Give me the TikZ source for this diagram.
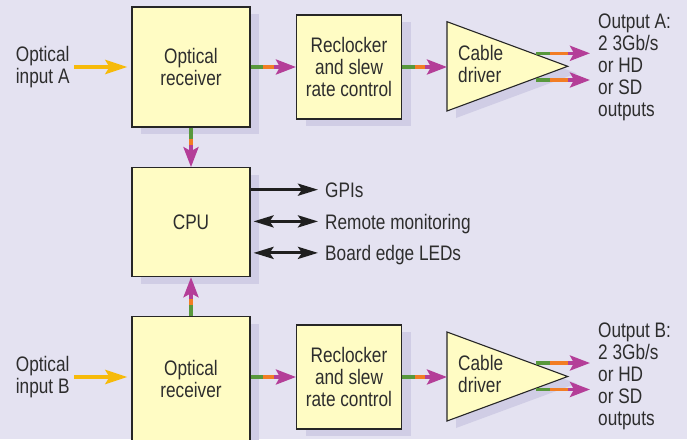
\documentclass[tikz,border=0pt]{standalone}
\usepackage{fontspec}
\setmainfont{Liberation Sans}[FakeStretch=0.82]
\usepackage{xcolor}
\usepackage{tikz}
\usetikzlibrary{arrows.meta,calc,shadows}
\definecolor{bgc}{RGB}{228,226,241}
\definecolor{shc}{RGB}{208,205,229}
\definecolor{boxc}{RGB}{255,252,196}
\definecolor{edgec}{RGB}{38,38,38}
\definecolor{txtc}{RGB}{45,45,45}
\definecolor{sgreen}{RGB}{88,152,60}
\definecolor{sorange}{RGB}{242,125,36}
\definecolor{smag}{RGB}{180,62,152}
\definecolor{syel}{RGB}{246,186,10}
\newcommand{\sigarrow}[3]{%
  \draw[sgn,sgreen] (#1) -- ($(#1)!#3!(#2)$);
  \draw[sgn,sorange] ($(#1)!#3!(#2)$) -- ($(#2)!19pt!(#1)$);
  \draw[sgn,smag,-{Stealth[length=20pt,width=15pt,inset=4pt]}] ($(#2)!22pt!(#1)$) -- (#2);}

\begin{document}
\begin{tikzpicture}[x=1pt,y=-1pt,font=\fontsize{21}{22}\selectfont,
  box/.style={draw=edgec,line width=1.1pt,fill=boxc,inner sep=0pt,text=txtc,align=center,
    drop shadow={shadow xshift=9pt,shadow yshift=-7pt,fill=shc,opacity=1}},
  lbl/.style={inner sep=0pt,text=txtc,align=left},
  sgn/.style={line width=3.5pt},
  yarr/.style={line width=4pt,syel,-{Stealth[length=22pt,width=14pt,inset=4pt]}},
  blk/.style={line width=3.2pt,black!88},
  btip/.tip={Stealth[length=20pt,width=12pt,inset=4pt]}]
  \useasboundingbox[fill=bgc] (0,0) rectangle (687,439);

  \node[box,minimum width=118pt,minimum height=120pt] (rxA) at (191,67) {Optical\\receiver};
  \node[box,minimum width=105pt,minimum height=104pt] (rcA) at (349,67) {Reclocker\\and slew\\rate control};
  \node[box,minimum width=118pt,minimum height=109pt] (cpu) at (191,222.2) {CPU};
  \node[box,minimum width=118pt,minimum height=124pt] (rxB) at (191,378.7) {Optical\\receiver};
  \node[box,minimum width=105pt,minimum height=104pt] (rcB) at (349,377) {Reclocker\\and slew\\rate control};

  \draw[draw=edgec,line width=1.1pt,fill=boxc,drop shadow={shadow xshift=9pt,shadow yshift=-7pt,fill=shc,opacity=1}]
    (447,21.7) -- (567.7,66.3) -- (447,111) -- cycle;
  \draw[draw=edgec,line width=1.1pt,fill=boxc,drop shadow={shadow xshift=9pt,shadow yshift=-7pt,fill=shc,opacity=1}]
    (447,332) -- (567.7,376.5) -- (447,421) -- cycle;
  \node[lbl,anchor=west] (drvA) at (458,63.5) {Cable\\driver};
  \node[lbl,anchor=west] (drvB) at (458,373.5) {Cable\\driver};
  \coordinate (drvAin) at (447,67);
  \coordinate (drvBin) at (447,377);

  \node[lbl,anchor=west] (inA) at (15.7,67.5) {Optical\\input A};
  \node[lbl,anchor=west] (inB) at (15.7,377.5) {Optical\\input B};
  \node[lbl,anchor=west] (outA) at (598,67) {Output A:\\2 3Gb/s\\or HD\\or SD\\outputs};
  \node[lbl,anchor=west] (outB) at (598,376.5) {Output B:\\2 3Gb/s\\or HD\\or SD\\outputs};
  \node[lbl,anchor=base west,text depth=0pt] (gpi) at (325,197) {GPIs};
  \node[lbl,anchor=base west,text depth=0pt] (rmt) at (325,229) {Remote monitoring};
  \node[lbl,anchor=base west,text depth=0pt] (led) at (325,260.5) {Board edge LEDs};

  \coordinate (oA1s) at (536,53.3);
  \coordinate (oA1e) at (590,53.3);
  \coordinate (oA2s) at (536,80);
  \coordinate (oA2e) at (590,80);
  \coordinate (oB1s) at (536,363);
  \coordinate (oB1e) at (590,363);
  \coordinate (oB2s) at (536,389.5);
  \coordinate (oB2e) at (590,389.5);

  \draw[yarr,shorten <=4.5pt,shorten >=4pt] (inA.east |- rxA.west) -- (rxA.west);
  \draw[yarr,shorten <=4.5pt,shorten >=4pt] (inB.east |- rcB.west) -- (rxB.west |- rcB.west);

  \sigarrow{rxA.east}{rcA.west}{12.5pt}
  \sigarrow{rcA.east}{drvAin}{12.5pt}
  \sigarrow{rxB.east |- rcB.west}{rcB.west}{12.5pt}
  \sigarrow{rcB.east}{drvBin}{12.5pt}
  \sigarrow{rxA.south}{cpu.north}{11pt}
  \sigarrow{rxB.north}{cpu.south}{11.5pt}
  \sigarrow{oA1s}{oA1e}{14pt}
  \sigarrow{oA2s}{oA2e}{14pt}
  \sigarrow{oB1s}{oB1e}{14pt}
  \sigarrow{oB2s}{oB2e}{14pt}

  \draw[blk,-btip,shorten >=7pt] (cpu.east |- gpi.west) -- (gpi.west);
  \draw[blk,btip-btip,shorten <=3pt,shorten >=7pt] (cpu.east |- rmt.west) -- (rmt.west);
  \draw[blk,btip-btip,shorten <=3pt,shorten >=7pt] (cpu.east |- led.west) -- (led.west);
\end{tikzpicture}
\end{document}
